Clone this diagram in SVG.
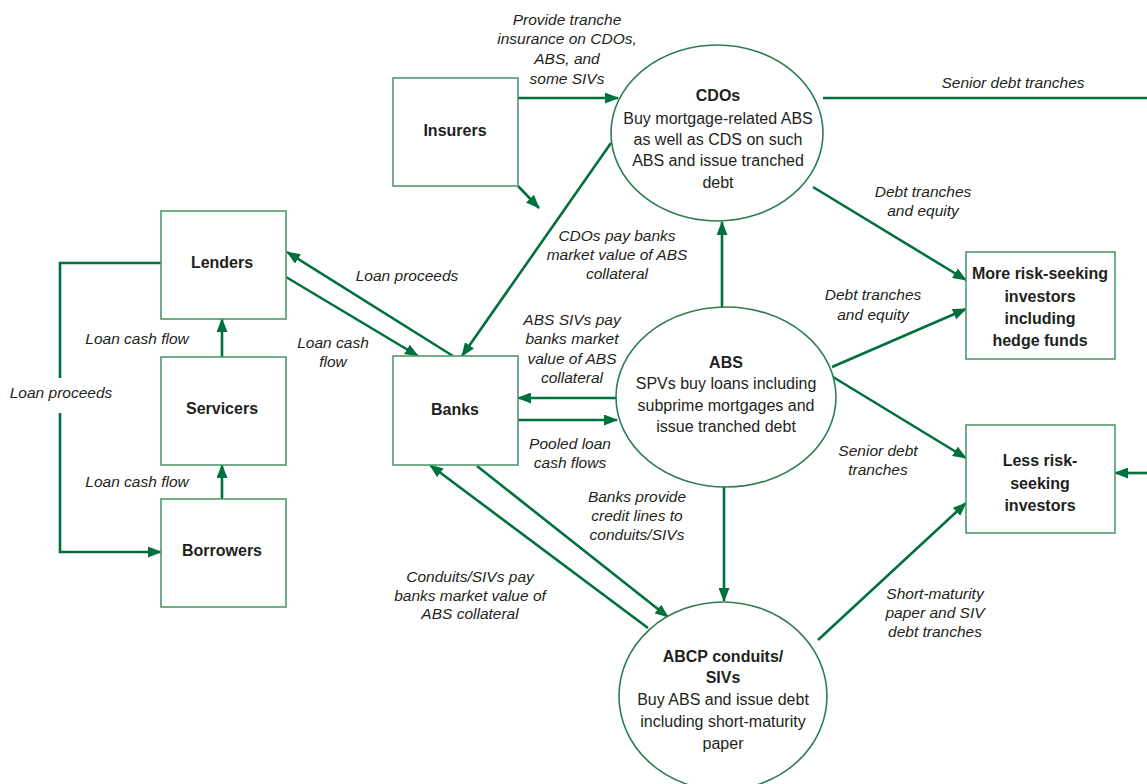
<svg xmlns="http://www.w3.org/2000/svg" width="1147" height="784" viewBox="0 0 1147 784">
<style>
.box{fill:#fff;stroke:#4f9a6c;stroke-width:1.6}
.ell{fill:#fff;stroke:#2f7d50;stroke-width:1.6}
.ln{fill:none;stroke:#00703c;stroke-width:2.6}
.ar{marker-end:url(#ah)}
text{font-family:"Liberation Sans",Arial,sans-serif;fill:#231f20;text-anchor:middle}
.b{font-weight:bold;font-size:16px}
.r{font-size:16px}
.i{font-style:italic;font-size:15.5px}
</style>
<defs>
<marker id="ah" markerUnits="userSpaceOnUse" markerWidth="14" markerHeight="11" refX="13" refY="5.5" orient="auto">
<path d="M0,0 L14,5.5 L0,11 z" fill="#00703c"/>
</marker>
</defs>
<rect width="1147" height="784" fill="#fff"/>
<g id="connectors">
<path class="ln ar" d="M518,98 L618,98"/>
<path class="ln ar" d="M518,186 L539,208"/>
<path class="ln ar" d="M611,143 L462,356"/>
<path class="ln" d="M823,98 L1147,98"/>
<path class="ln ar" d="M813,187 L966,280"/>
<path class="ln ar" d="M722,308 L722,222"/>
<path class="ln ar" d="M832,367 L966,309"/>
<path class="ln ar" d="M833,377 L966,458"/>
<path class="ln ar" d="M617,398 L518,398"/>
<path class="ln ar" d="M518,420 L617,420"/>
<path class="ln ar" d="M724,487 L724,601"/>
<path class="ln ar" d="M477,466 L668,617"/>
<path class="ln ar" d="M648,628 L430,465"/>
<path class="ln ar" d="M818,640 L966,503"/>
<path class="ln ar" d="M1147,473 L1115,473"/>
<path class="ln ar" d="M453,356 L287,252"/>
<path class="ln ar" d="M286,277 L418,356"/>
<path class="ln ar" d="M222,357 L222,319"/>
<path class="ln ar" d="M222,499 L222,465"/>
<path class="ln" d="M161,263 H60 V378"/>
<path class="ln ar" d="M60,413 V552 H161"/>
</g>
<g id="labels">
<text class="i" x="567" y="25">Provide tranche</text>
<text class="i" x="567" y="44">insurance on CDOs,</text>
<text class="i" x="567" y="64">ABS, and</text>
<text class="i" x="567" y="84">some SIVs</text>
<text class="i" x="1013" y="88">Senior debt tranches</text>
<text class="i" x="923" y="197">Debt tranches</text>
<text class="i" x="923" y="216">and equity</text>
<text class="i" x="617" y="241">CDOs pay banks</text>
<text class="i" x="617" y="260">market value of ABS</text>
<text class="i" x="617" y="279">collateral</text>
<text class="i" x="407" y="281">Loan proceeds</text>
<text class="i" x="333" y="348">Loan cash</text>
<text class="i" x="333" y="367">flow</text>
<text class="i" x="137" y="344">Loan cash flow</text>
<text class="i" x="137" y="487">Loan cash flow</text>
<text class="i" x="61" y="398">Loan proceeds</text>
<text class="i" x="572" y="325">ABS SIVs pay</text>
<text class="i" x="572" y="344">banks market</text>
<text class="i" x="572" y="364">value of ABS</text>
<text class="i" x="572" y="383">collateral</text>
<text class="i" x="570" y="449">Pooled loan</text>
<text class="i" x="570" y="468">cash flows</text>
<text class="i" x="637" y="502">Banks provide</text>
<text class="i" x="637" y="521">credit lines to</text>
<text class="i" x="637" y="540">conduits/SIVs</text>
<text class="i" x="873" y="300">Debt tranches</text>
<text class="i" x="873" y="320">and equity</text>
<text class="i" x="878" y="456">Senior debt</text>
<text class="i" x="878" y="475">tranches</text>
<text class="i" x="470" y="582">Conduits/SIVs pay</text>
<text class="i" x="470" y="601">banks market value of</text>
<text class="i" x="470" y="619">ABS collateral</text>
<text class="i" x="935" y="599">Short-maturity</text>
<text class="i" x="935" y="618">paper and SIV</text>
<text class="i" x="935" y="637">debt tranches</text>
</g>
<g id="insurers">
<rect class="box" x="393" y="78" width="125" height="108"/>
<text class="b" x="455" y="136">Insurers</text>
</g>
<g id="cdos">
<ellipse class="ell" cx="717" cy="133" rx="106" ry="88"/>
<text class="b" x="718" y="101">CDOs</text>
<text class="r" x="718" y="124">Buy mortgage-related ABS</text>
<text class="r" x="718" y="145">as well as CDS on such</text>
<text class="r" x="718" y="166">ABS and issue tranched</text>
<text class="r" x="718" y="188">debt</text>
</g>
<g id="lenders">
<rect class="box" x="161" y="211" width="125" height="108"/>
<text class="b" x="222" y="268">Lenders</text>
</g>
<g id="servicers">
<rect class="box" x="161" y="357" width="125" height="108"/>
<text class="b" x="222" y="414">Servicers</text>
</g>
<g id="borrowers">
<rect class="box" x="161" y="499" width="125" height="108"/>
<text class="b" x="222" y="556">Borrowers</text>
</g>
<g id="banks">
<rect class="box" x="393" y="356" width="125" height="109"/>
<text class="b" x="455" y="415">Banks</text>
</g>
<g id="abs">
<ellipse class="ell" cx="726" cy="397" rx="110" ry="90"/>
<text class="b" x="726" y="368">ABS</text>
<text class="r" x="726" y="389">SPVs buy loans including</text>
<text class="r" x="726" y="411">subprime mortgages and</text>
<text class="r" x="726" y="432">issue tranched debt</text>
</g>
<g id="abcp">
<ellipse class="ell" cx="723" cy="696" rx="104" ry="94"/>
<text class="b" x="723" y="662">ABCP conduits/</text>
<text class="b" x="723" y="683">SIVs</text>
<text class="r" x="723" y="705">Buy ABS and issue debt</text>
<text class="r" x="723" y="727">including short-maturity</text>
<text class="r" x="723" y="749">paper</text>
</g>
<g id="more-risk">
<rect class="box" x="966" y="252" width="149" height="107"/>
<text class="b" x="1040" y="279">More risk-seeking</text>
<text class="b" x="1040" y="302">investors</text>
<text class="b" x="1040" y="324">including</text>
<text class="b" x="1040" y="346">hedge funds</text>
</g>
<g id="less-risk">
<rect class="box" x="966" y="425" width="149" height="108"/>
<text class="b" x="1040" y="466">Less risk-</text>
<text class="b" x="1040" y="489">seeking</text>
<text class="b" x="1040" y="511">investors</text>
</g>
</svg>
